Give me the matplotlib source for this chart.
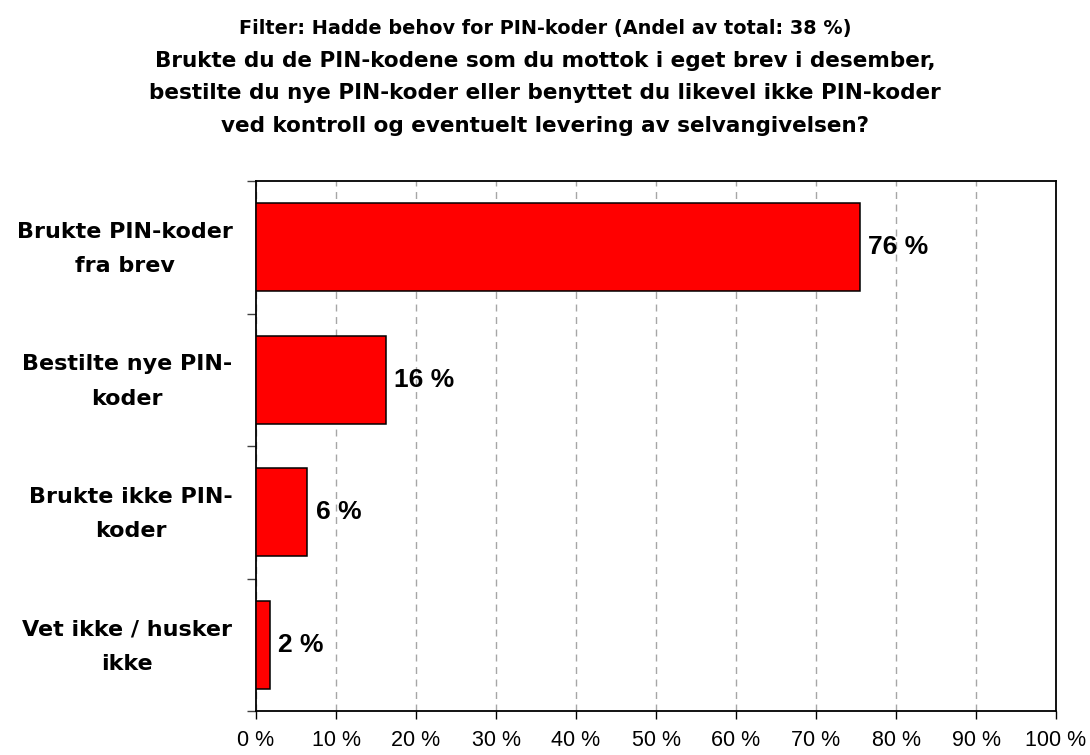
import matplotlib
matplotlib.use("Agg")
import matplotlib.pyplot as plt
import matplotlib.transforms as mtransforms
import numpy as np

plt.rcParams['font.family'] = ['Liberation Sans', 'DejaVu Sans']

categories = ["Brukte PIN-koder\nfra brev", "Bestilte nye PIN-\nkoder",
              "Brukte ikke PIN-\nkoder", "Vet ikke / husker\nikke"]
values = [75.5, 16.2, 6.4, 1.75]
value_labels = ["76 %", "16 %", "6 %", "2 %"]
xtick_values = [0, 10, 20, 30, 40, 50, 60, 70, 80, 90, 100]
xtick_labels = [f"{v} %" for v in xtick_values]
filter_text = "Filter: Hadde behov for PIN-koder (Andel av total: 38 %)"
title_lines = ["Brukte du de PIN-kodene som du mottok i eget brev i desember,",
               "bestilte du nye PIN-koder eller benyttet du likevel ikke PIN-koder",
               "ved kontroll og eventuelt levering av selvangivelsen?"]

W, H = 1090, 755
fig = plt.figure(figsize=(W / 100, H / 100), dpi=100)
ax = fig.add_axes([256/W, 1-711/H, 800/W, 530/H])

n = len(categories)
ypos = np.arange(n)
ax.barh(ypos, values, height=0.667, color='#FF0000', edgecolor='black',
        linewidth=1.1, zorder=3)

ax.set_xlim(0, 100)
ax.set_ylim(n - 0.5, -0.5)

for y, v, lab in zip(ypos, values, value_labels):
    ax.annotate(lab, xy=(v, y), xytext=(6, 0), textcoords='offset points',
                ha='left', va='center', fontsize=19, fontweight='bold', zorder=4)

ax.set_xticks(xtick_values)
ax.set_xticklabels(xtick_labels, fontsize=15.5)
ax.tick_params(axis='x', direction='out', length=5.5, width=1, pad=8, colors='black')
ax.xaxis.grid(True, color='#A6A6A6', linestyle=(0, (5, 4)), linewidth=1)
ax.set_axisbelow(True)

# y ticks at category boundaries, labels drawn at category centres
ax.set_yticks(np.arange(n + 1) - 0.5)
ax.set_yticklabels([])
ax.tick_params(axis='y', which='major', direction='out', length=6.5, width=1, colors='#404040')

blend = mtransforms.blended_transform_factory(ax.transAxes, ax.transData)
for y, cat in zip(ypos, categories):
    ax.annotate(cat, xy=(0, y), xycoords=blend, xytext=(-17, -1.3),
                textcoords='offset points', ha='right', va='center',
                multialignment='center', linespacing=1.9,
                fontsize=16, fontweight='bold', family='DejaVu Sans',
                annotation_clip=False)

for s in ax.spines.values():
    s.set_linewidth(1.3)
    s.set_color('black')

fig.text(0.5, 1 - 34/H, filter_text, ha='center', va='baseline',
         fontsize=13.9, fontweight='bold', family='DejaVu Sans')
for i, line in enumerate(title_lines):
    fig.text(0.5, 1 - (67 + 32.4 * i)/H, line, ha='center', va='baseline',
             fontsize=15.5, fontweight='bold', family='DejaVu Sans')

fig.savefig("out.png", dpi=100)
